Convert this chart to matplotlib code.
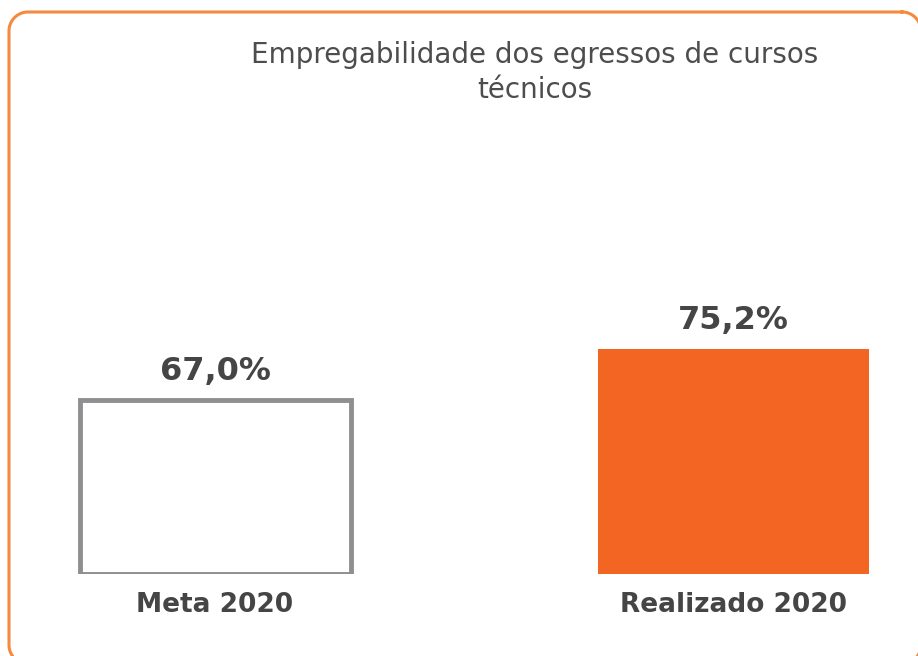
"""
Empregabilidade dos egressos de cursos tecnicos - bar chart.
"""

import numpy as np
import matplotlib.pyplot as plt

# ===== DATA =====
categories = ['Meta 2020', 'Realizado 2020']
values = [67.0, 75.2]
value_labels = ['67,0%', '75,2%']

TEXT_COLOR = '#454545'
ORANGE = '#F26522'
GREY = '#8F8F92'
BORDER = '#F58A3E'
BASE = 39  # axis starts here, not at zero

plt.rcParams['font.family'] = ['DejaVu Sans']


def rounded_frame(x0, y0, x1, y1, r, n=30):
    """Outline of a rounded rectangle (pixel units, y pointing down)."""
    pts = []
    corners = [(x1 - r, y0 + r, -90, 0), (x1 - r, y1 - r, 0, 90),
               (x0 + r, y1 - r, 90, 180), (x0 + r, y0 + r, 180, 270)]
    for cx, cy, a0, a1 in corners:
        t = np.radians(np.linspace(a0, a1, n))
        pts += list(zip(cx + r * np.cos(t), cy + r * np.sin(t)))
    pts.append(pts[0])
    return np.array(pts)


fig = plt.figure(figsize=(9.18, 6.56), dpi=100)
W, H = 918, 656

# Background axes in pixel units, used for the rounded orange frame
bg = fig.add_axes([0, 0, 1, 1])
bg.set_xlim(0, W)
bg.set_ylim(H, 0)
bg.axis('off')
frame = rounded_frame(9, 12, 921, 664, 19)
bg.plot(frame[:, 0], frame[:, 1], color=BORDER, linewidth=2.2)

# Axes placed so that the bars sit where they do in the original
ax = fig.add_axes([0, (H - 574) / H, 1, (574 - 130) / H])
ax.set_xlim(-215 / 518, (W - 215) / 518)
ax.set_ylim(BASE, BASE + 444 / 6.22)
ax.axis('off')

x = [0, 1]
width = 271 / 518
heights = [v - BASE for v in values]
ax.bar(x[0], heights[0], width=width, bottom=BASE, color='white',
       edgecolor=GREY, linewidth=3.5)
ax.bar(x[1], heights[1], width=width, bottom=BASE, color=ORANGE, linewidth=0)

# Value labels above the bars
for xi, v, lab in zip(x, values, value_labels):
    ax.annotate(lab, (xi, v), xytext=(0, 14), textcoords='offset points',
                ha='center', va='baseline', fontsize=23, fontweight='bold',
                color=TEXT_COLOR)

# Category labels under the bars
for xi, cat in zip(x, categories):
    ax.annotate(cat, (xi, BASE), xytext=(0, -27), textcoords='offset points',
                ha='center', va='baseline', fontsize=19, fontweight='bold',
                color=TEXT_COLOR, annotation_clip=False)

fig.text(535 / W, 1 - 63 / H, 'Empregabilidade dos egressos de cursos',
         ha='center', va='baseline', fontsize=20, color='#4D4D4D')
fig.text(535 / W, 1 - 98 / H, 'técnicos',
         ha='center', va='baseline', fontsize=20, color='#4D4D4D')

plt.savefig('out.png', dpi=100)
plt.close()
